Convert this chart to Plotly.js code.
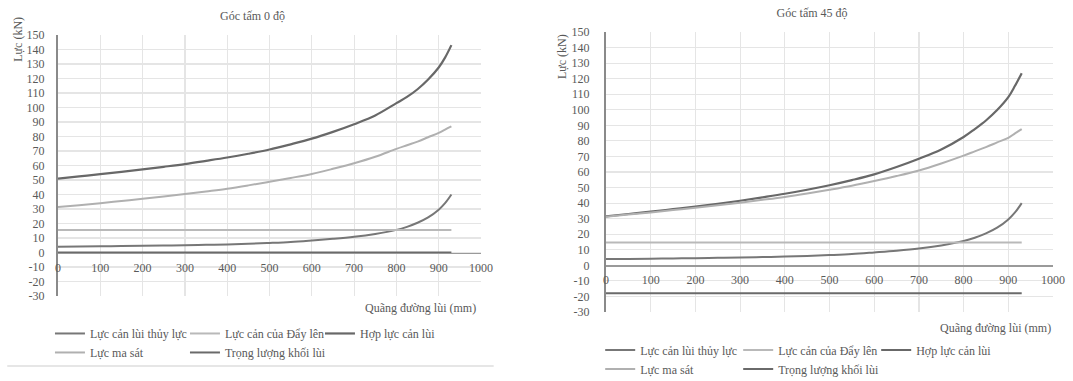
<!DOCTYPE html>
<html>
<head>
<meta charset="utf-8">
<script src="https://cdn.plot.ly/plotly-3.0.1.min.js"></script>
<style>
  html, body { margin:0; padding:0; background:#fff; }
  #wrap { width:1073px; height:381px; position:relative; overflow:hidden; }
  #c0 { position:absolute; left:0; top:0; width:540px; height:381px; }
  #c45 { position:absolute; left:540px; top:0; width:533px; height:381px; }
</style>
</head>
<body>
<div id="wrap"><div id="c0"></div><div id="c45"></div></div>
<script>
// ---- data ----
const distance = [0, 50, 100, 150, 200, 250, 300, 350, 400, 450, 500, 550, 600, 650, 700, 750, 800, 825, 850, 875, 900, 915, 930];

// Góc tấm 0 độ
const hydraulic0 = [4.0, 4.15, 4.3, 4.45, 4.6, 4.8, 5.0, 5.3, 5.6, 6.0, 6.6, 7.3, 8.3, 9.4, 10.8, 12.8, 15.6, 17.7, 20.5, 24.2, 29.5, 34.0, 40.0];
const buoyancy0  = [15.6, 15.6, 15.6, 15.6, 15.6, 15.6, 15.6, 15.6, 15.6, 15.6, 15.6, 15.6, 15.6, 15.6, 15.6, 15.6, 15.6, 15.6, 15.6, 15.6, 15.6, 15.6, 15.6];
const total0     = [51.0, 52.5, 54.0, 55.6, 57.3, 59.1, 61.0, 63.2, 65.5, 68.1, 71.0, 74.6, 78.5, 83.2, 88.5, 94.5, 103.0, 107.3, 112.6, 119.3, 127.6, 134.4, 143.0];
const friction0  = [31.3, 32.6, 34.0, 35.5, 37.0, 38.6, 40.3, 42.1, 44.0, 46.3, 48.8, 51.4, 54.2, 57.7, 61.5, 66.0, 71.5, 74.0, 76.5, 79.5, 82.5, 84.8, 87.0];
const weight0    = [0, 0, 0, 0, 0, 0, 0, 0, 0, 0, 0, 0, 0, 0, 0, 0, 0, 0, 0, 0, 0, 0, 0];

// Góc tấm 45 độ
const hydraulic45 = [4.0, 4.15, 4.3, 4.45, 4.6, 4.8, 5.0, 5.3, 5.6, 6.0, 6.6, 7.3, 8.3, 9.4, 10.8, 12.8, 15.6, 17.7, 20.5, 24.2, 29.5, 34.0, 40.0];
const buoyancy45  = [14.6, 14.6, 14.6, 14.6, 14.6, 14.6, 14.6, 14.6, 14.6, 14.6, 14.6, 14.6, 14.6, 14.6, 14.6, 14.6, 14.6, 14.6, 14.6, 14.6, 14.6, 14.6, 14.6];
const total45     = [31.5, 33.0, 34.5, 36.1, 37.7, 39.5, 41.5, 43.7, 46.0, 48.6, 51.5, 54.8, 58.5, 63.2, 68.5, 74.5, 82.5, 87.6, 93.1, 99.8, 108.1, 115.4, 123.5];
const friction45  = [31.3, 32.6, 34.0, 35.5, 37.0, 38.6, 40.3, 42.1, 44.0, 46.2, 48.6, 51.2, 54.2, 57.4, 61.0, 65.5, 70.5, 73.3, 76.0, 79.0, 82.0, 84.8, 87.5];
const weight45    = [-18, -18, -18, -18, -18, -18, -18, -18, -18, -18, -18, -18, -18, -18, -18, -18, -18, -18, -18, -18, -18, -18, -18];

const seriesNames = ['Lực cản lùi thủy lực', 'Lực cản của Đẩy lên', 'Hợp lực cản lùi', 'Lực ma sát', 'Trọng lượng khối lùi'];
const xTickVals = [0, 100, 200, 300, 400, 500, 600, 700, 800, 900, 1000];
const xTickText = ['0', '100', '200', '300', '400', '500', '600', '700', '800', '900', '1000'];
const yTickVals = [-30, -20, -10, 0, 10, 20, 30, 40, 50, 60, 70, 80, 90, 100, 110, 120, 130, 140, 150];
const yTickText = ['-30', '-20', '-10', '0', '10', '20', '30', '40', '50', '60', '70', '80', '90', '100', '110', '120', '130', '140', '150'];
const titles = ['Góc tấm 0 độ', 'Góc tấm 45 độ'];
const xTitle = 'Quãng đường lùi (mm)';
const yTitle = 'Lực (kN)';

// ---- styling ----
const FONT = '"Liberation Serif", "DejaVu Serif", serif';
const TXT = '#595959';
const colors = ['#777777', '#b9b9b9', '#686868', '#b0b0b0', '#6a6a6a'];
const widths = [2, 2, 2.2, 2, 2];

function makeTraces(series) {
  return series.map((ys, i) => ({
    type: 'scatter', mode: 'lines', x: distance, y: ys, name: seriesNames[i],
    line: { color: colors[i], width: widths[i], shape: 'spline', smoothing: 1 },
    hoverinfo: 'skip'
  }));
}

function makeLayout(o) {
  return {
    width: o.w, height: 381,
    margin: { l: o.l, r: o.r, t: o.t, b: o.b, pad: 0, autoexpand: false },
    paper_bgcolor: '#ffffff', plot_bgcolor: '#ffffff',
    font: { family: FONT, size: 12, color: TXT },
    showlegend: true,
    title: { text: o.title, xref: 'paper', x: o.titleX, xanchor: 'center', yref: 'container', y: o.titleY, yanchor: 'middle',
             font: { family: FONT, size: 12, color: TXT } },
    xaxis: {
      range: [0, 1000], tickmode: 'array', tickvals: xTickVals, ticktext: xTickText,
      anchor: 'free', position: 30 / 180,
      showline: true, linecolor: '#9a9a9a', linewidth: 1.6,
      showgrid: true, gridcolor: '#e5e5e5', gridwidth: 1.2, zeroline: false,
      ticks: '', ticklabelstandoff: 3, tickfont: { family: FONT, size: 12, color: TXT }, fixedrange: true
    },
    yaxis: {
      range: [-30, 150], tickmode: 'array', tickvals: yTickVals, ticktext: yTickText,
      showline: true, linecolor: '#8a8a8a', linewidth: 2,
      showgrid: true, gridcolor: '#e5e5e5', gridwidth: 1.2, zeroline: false,
      ticks: '', ticklabelstandoff: o.ystand, tickfont: { family: FONT, size: 12, color: TXT }, fixedrange: true
    },
    legend: {
      orientation: 'h', x: o.legX, xanchor: 'left', y: o.legY, yanchor: 'top',
      entrywidth: o.entryW, traceorder: 'normal', bgcolor: 'rgba(0,0,0,0)',
      font: { family: FONT, size: 12, color: TXT }
    },
    annotations: [
      { text: xTitle, xref: 'paper', yref: 'paper', x: o.xtX, y: o.xtY, xanchor: 'right', yanchor: 'middle', showarrow: false,
        font: { family: FONT, size: 12, color: TXT } },
      { text: yTitle, xref: 'paper', yref: 'paper', x: o.ytX, y: o.ytY, xanchor: 'center', yanchor: 'middle', textangle: -90, showarrow: false,
        font: { family: FONT, size: 12, color: TXT } }
    ],
    shapes: o.shapes || []
  };
}

const cfg = { displayModeBar: false, staticPlot: true };

Plotly.newPlot('c0',
  makeTraces([hydraulic0, buoyancy0, total0, friction0, weight0]),
  makeLayout({ w: 540, l: 58, r: 58.5, t: 35, b: 85, title: titles[0], titleX: 0.46, titleY: 1 - 16 / 381,
               ystand: 9, legX: -0.019, legY: -0.088, entryW: 90, xtX: 0.993, xtY: -0.045, ytX: -0.095, ytY: 0.985,
               shapes: [{ type: 'line', xref: 'paper', yref: 'paper', x0: -0.12, x1: 1.03, y0: -0.268, y1: -0.268,
                          line: { color: '#e6e6e6', width: 2 } }] }),
  cfg);

Plotly.newPlot('c45',
  makeTraces([hydraulic45, buoyancy45, total45, friction45, weight45]),
  makeLayout({ w: 533, l: 66, r: 20, t: 32, b: 69, title: titles[1], titleX: 0.461, titleY: 1 - 13 / 381,
               ystand: 12, legX: -0.013, legY: -0.084, entryW: 93, xtX: 1.0, xtY: -0.057, ytX: -0.098, ytY: 0.911 }),
  cfg);
</script>
</body>
</html>
